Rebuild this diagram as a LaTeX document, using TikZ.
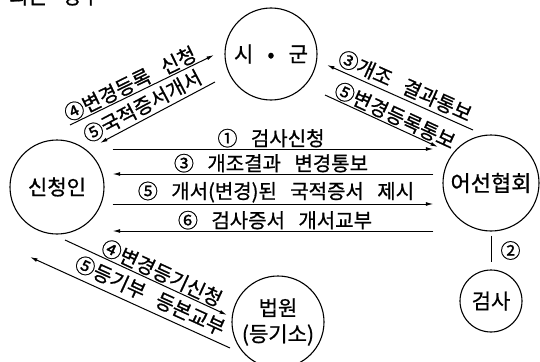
\documentclass[tikz,border=0pt]{standalone}
\usepackage{fontspec}
\setmainfont{Noto Sans CJK KR}[WordSpace=3,FakeBold=0.8]
\usetikzlibrary{arrows.meta}

\tikzset{
  office/.style={draw,circle,line width=1.1pt,inner sep=0pt},
  flow/.style={line width=1pt,-{Latex[length=7.5pt,width=3.8pt]}},
  step lbl/.style={font=\fontsize{20}{20}\selectfont,inner sep=1pt},
}

\begin{document}
\begin{tikzpicture}[x=1pt,y=-1pt]
\useasboundingbox (0,0) rectangle (540,361);
% the heading above is cut off by the page edge
\node[step lbl,font=\fontsize{21}{20}\selectfont,anchor=base west] (head) at (8,4) {되는 경우};

\node[office,minimum size=92pt,font=\fontsize{21}{20}\selectfont] (city) at (271,54) {시 • 군};
\node[office,minimum size=94pt,font=\fontsize{21}{20}\selectfont] (app) at (57,187) {신청인};
\node[office,minimum size=96pt,font=\fontsize{22}{20}\selectfont] (assoc) at (491,183) {어선협회};
\node[office,minimum size=62pt,font=\fontsize{21}{20}\selectfont] (insp) at (491,301) {검사};
\node[office,minimum size=92pt,align=center,font=\fontsize{21}{26}\selectfont] (court) at (278,322)
  {법원\\(등기소)};

% horizontal exchanges between applicant and association
\coordinate (hl) at ([xshift=8pt]app.east);
\coordinate (hr) at ([xshift=-9pt]assoc.west);
\draw[flow] (hl |- 0,149) -- node[step lbl,above=0pt,xshift=-2pt] (s1) {① 검사신청} (hr |- 0,149);
\draw[flow] (hr |- 0,174) -- node[step lbl,above=0pt,xshift=-2pt] (s3) {③ 개조결과 변경통보} (hl |- 0,174);
\draw[flow] (hl |- 0,204) -- node[step lbl,above=0pt,xshift=3pt] (s5) {⑤ 개서(변경)된 국적증서 제시} (hr |- 0,204);
\draw[flow] (hr |- 0,231) -- node[step lbl,above=0pt,xshift=2pt] (s6) {⑥ 검사증서 개서교부} (hl |- 0,231);

% applicant and city
\coordinate (ul1a) at (70,125);  \coordinate (ul1b) at (214,55);
\coordinate (ul2a) at (215,82);  \coordinate (ul2b) at (100,143);
\draw[flow] (ul1a) -- node[step lbl,sloped,above=0pt,pos=0.45] (c4) {④변경등록 신청} (ul1b);
\draw[flow] (ul2a) -- node[step lbl,sloped,above=2pt,pos=0.58] (c5) {⑤국적증서개서} (ul2b);

% association and city
\coordinate (ur1a) at (473,130); \coordinate (ur1b) at (327,65);
\coordinate (ur2a) at (325,95);  \coordinate (ur2b) at (438,147);
\draw[flow] (ur1a) -- node[step lbl,sloped,above=2pt,pos=0.5] (a3) {③개조 결과통보} (ur1b);
\draw[flow] (ur2a) -- node[step lbl,sloped,above=0pt,pos=0.58] (a5) {⑤변경등록통보} (ur2b);

% applicant and court
\coordinate (ll1a) at (65,240);  \coordinate (ll1b) at (227,315);
\coordinate (ll2a) at (230,348); \coordinate (ll2b) at (30,257);
\draw[flow] (ll1a) -- node[step lbl,sloped,above=0pt,pos=0.57] (r4) {④변경등기신청} (ll1b);
\draw[flow] (ll2a) -- node[step lbl,sloped,above=4pt,pos=0.43] (r5) {⑤등기부 등본교부} (ll2b);

% association and inspection
\draw[line width=1pt,shorten <=4pt,shorten >=7pt] (assoc.south) -- node[step lbl,right=8pt] (i2) {②} (insp.north);
\end{tikzpicture}
\end{document}
